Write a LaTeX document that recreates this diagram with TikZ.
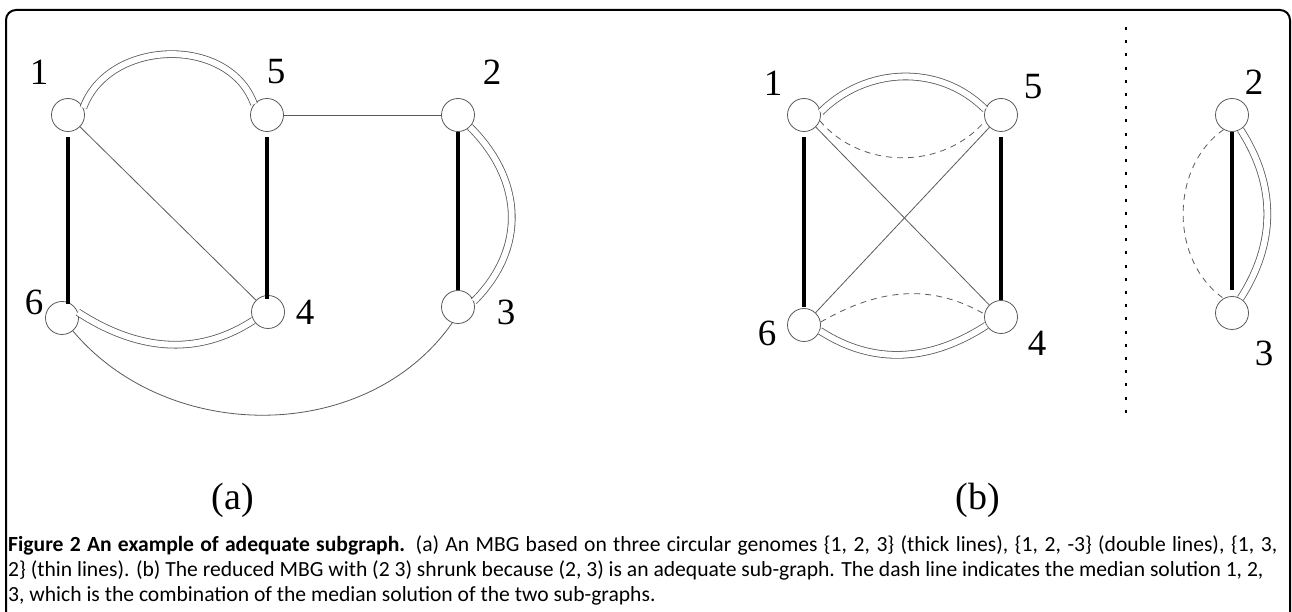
\documentclass[tikz,border=0pt]{standalone}
\usepackage{fontspec}
\setmainfont{Liberation Serif}
\newfontfamily\capfont{Carlito}
\begin{document}
\begin{tikzpicture}[
    x=1pt, y=1pt,
    vtx/.style={circle, draw=black!65, line width=0.8pt, minimum size=33pt, inner sep=0pt},
    num/.style={inner sep=0pt, font=\fontsize{37}{40}\selectfont},
    heavy/.style={line width=4.5pt},
    dbl/.style={draw=black!65, double, double distance=6pt, line width=0.8pt},
    fine/.style={draw=black!65, line width=0.8pt},
    dsh/.style={draw=black!65, line width=0.8pt, dash pattern=on 6pt off 5pt},
    dots/.style={line width=2.5pt, dash pattern=on 3pt off 10.2pt},
    captext/.style={anchor=base west, inner sep=0pt, font=\capfont\fontsize{21.6}{25}\selectfont}
]
\useasboundingbox (0,0) rectangle (1292,612);
\draw[line width=2pt, rounded corners=10pt] (6,602) rectangle (1290,-30);

% (a)
\node[vtx] (v1) at (68,497) {};
\node[vtx] (v5) at (267,497) {};
\node[vtx] (v2) at (458,497) {};
\node[vtx] (v6) at (62,294) {};
\node[vtx] (v4) at (268,300) {};
\node[vtx] (v3) at (458,305) {};
\node[num] (l1) at (39,540) {1};
\node[num] (l5) at (276,540) {5};
\node[num] (l2) at (492,540) {2};
\node[num] (l6) at (34,310) {6};
\node[num] (l4) at (305,300) {4};
\node[num] (l3) at (506,300) {3};
\draw[heavy] ([yshift=-5pt]v1.south) -- ([yshift=-3pt]v1.south |- v6.north);
\draw[heavy] ([yshift=-5pt]v5.south) -- ([yshift=-4pt]v5.south |- v4.north);
\draw[heavy] (v2.south) -- (v3.north);
\draw[dbl] (v1.25) to[out=70, in=110, looseness=1.1] (v5.140);
\draw[dbl] (v6.20) to[out=-33, in=-147] (v4.210);
\draw[dbl] (v2.-45) to[out=-45, in=45, looseness=1.1] (v3.20);
\draw[fine] (v5) -- (v2);
\draw[fine] (v1) -- (v4);
\draw[fine] (v6.-50) to[out=-50, in=-125] (v3.-110);
\node[num, font=\fontsize{38}{42}\selectfont] (la) at (233,112) {(a)};

% (b)
\node[vtx] (w1) at (804,497) {};
\node[vtx] (w5) at (1001,497) {};
\node[vtx] (w6) at (804,287) {};
\node[vtx] (w4) at (1001,295) {};
\node[vtx] (w2) at (1232,497) {};
\node[vtx] (w3) at (1232,299) {};
\node[num] (m1) at (773,529) {1};
\node[num] (m5) at (1033,525) {5};
\node[num] (m6) at (767,279) {6};
\node[num] (m4) at (1037,269) {4};
\node[num] (m2) at (1254,530) {2};
\node[num] (m3) at (1264,259) {3};
\draw[heavy] ([yshift=-5pt]w1.south) -- ([yshift=1pt]w6.north);
\draw[heavy] ([yshift=-5pt]w5.south) -- (w4.north);
\draw[heavy] (w2.south) -- ([yshift=6pt]w3.north);
\draw[dbl] (w1.10) to[out=45, in=135] (w5.160);
\draw[dsh] (w1.-20) to[out=-50, in=-130] (w5.-160);
\draw[dsh] (w6.10) to[out=30, in=150] (w4.170);
\draw[dbl] (w6.-20) to[out=-33, in=-147] (w4.-150);
\draw[fine] (w1) -- (w4);
\draw[fine] (w5) -- (w6);
\draw[dbl] (w2.-60) to[out=-57, in=57] (w3.60);
\draw[dsh] (w2.-120) to[out=-145, in=145] (w3.120);
\node[num, font=\fontsize{38}{42}\selectfont] (lb) at (978,112) {(b)};

\coordinate (dtop) at (1126,585);
\coordinate (dbot) at (1126,190);
\draw[dots] (dtop) -- (dbot);

\node[captext] (cap1) at (8,60) {\makebox[1269pt][s]{\textbf{Figure 2 An example of adequate subgraph.} (a) An MBG based on three circular genomes \{1, 2, 3\} (thick lines), \{1, 2, -3\} (double lines), \{1, 3,}};
\node[captext] (cap2) at (8,35) {2\} (thin lines). (b) The reduced MBG with (2 3) shrunk because (2, 3) is an adequate sub-graph. The dash line indicates the median solution 1, 2,};
\node[captext] (cap3) at (8,10) {3, which is the combination of the median solution of the two sub-graphs.};
\end{tikzpicture}
\end{document}
